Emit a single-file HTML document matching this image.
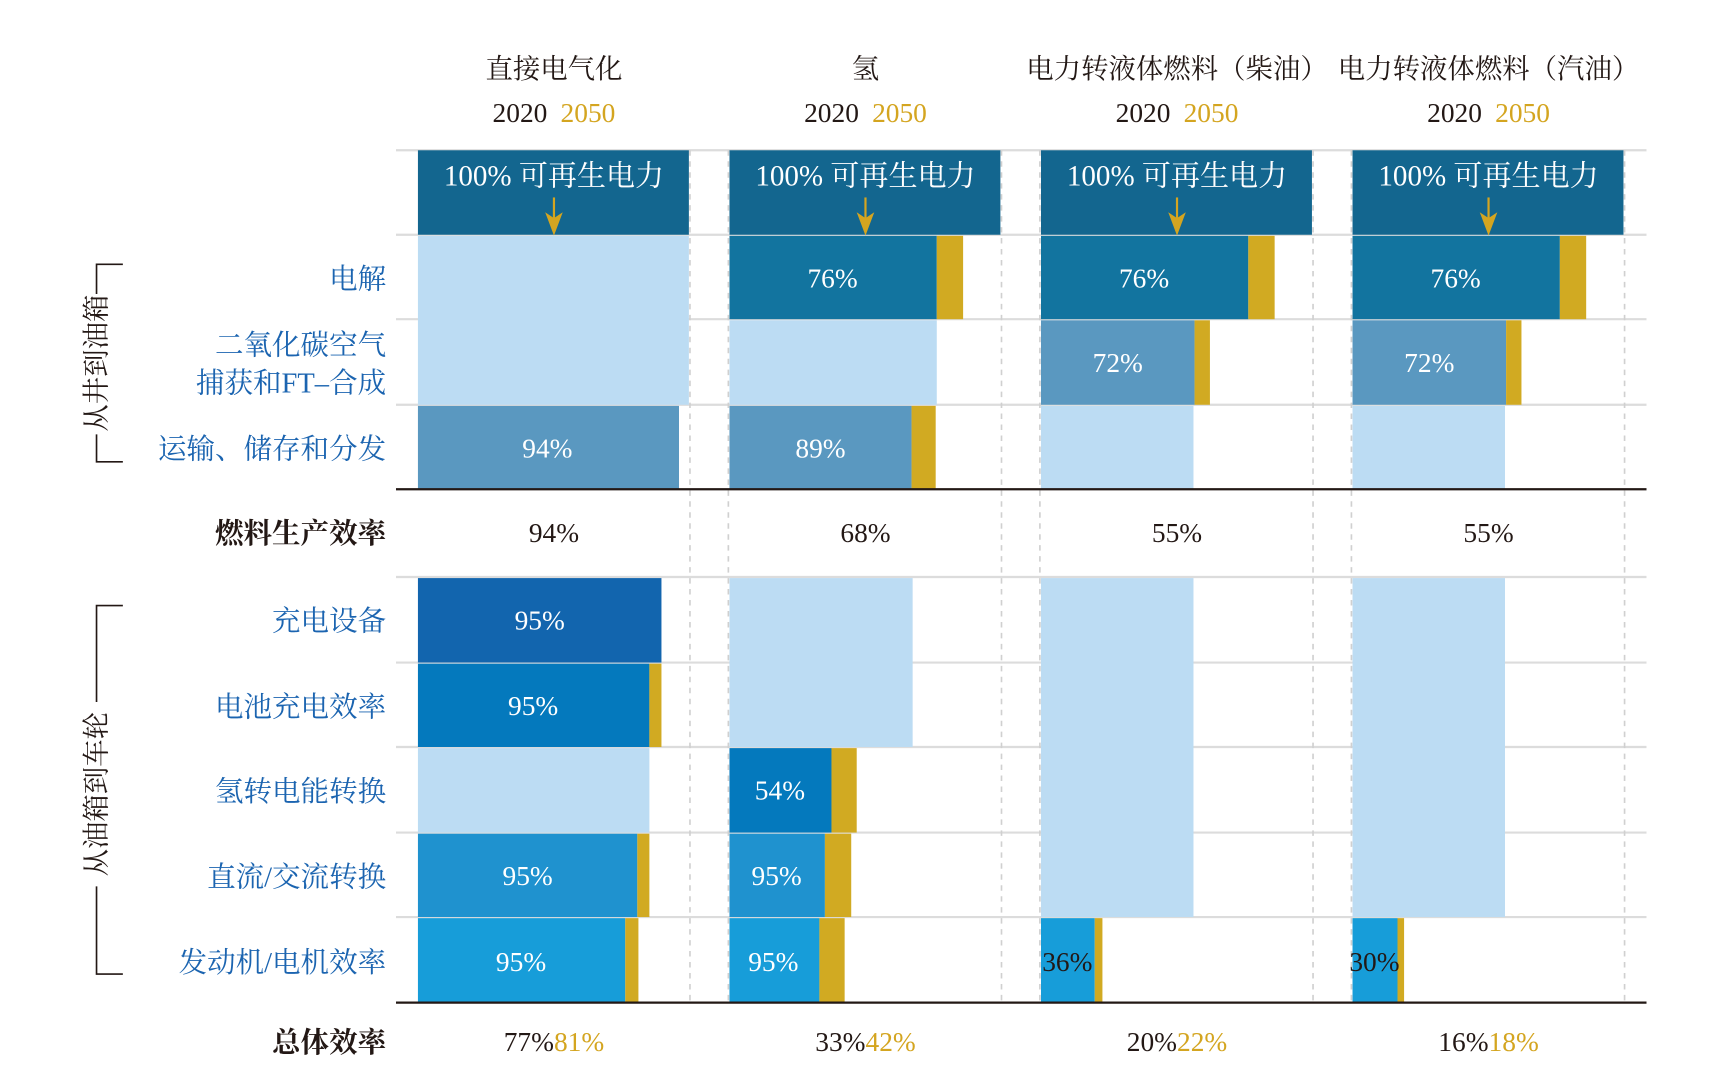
<!DOCTYPE html>
<html><head><meta charset="utf-8"><style>
html,body{margin:0;padding:0;background:#fff;}
svg{display:block;}
text{font-family:"Liberation Serif","Noto Serif CJK SC",serif;}
</style></head><body>
<svg width="1720" height="1075" viewBox="0 0 1568 980" preserveAspectRatio="none" xmlns="http://www.w3.org/2000/svg">
<rect width="1568" height="980" fill="#fff"/>
<g font-size="25" fill="#231815" text-anchor="middle">
<text x="505" y="71">直接电气化</text>
<text x="789" y="71">氢</text>
<text x="1073" y="71">电力转液体燃料（柴油）</text>
<text x="1357" y="71">电力转液体燃料（汽油）</text>
</g>
<g font-size="25" text-anchor="middle">
<text x="505" y="111"><tspan fill="#231815">2020</tspan><tspan fill="#d4a520" dx="12">2050</tspan></text>
<text x="789" y="111"><tspan fill="#231815">2020</tspan><tspan fill="#d4a520" dx="12">2050</tspan></text>
<text x="1073" y="111"><tspan fill="#231815">2020</tspan><tspan fill="#d4a520" dx="12">2050</tspan></text>
<text x="1357" y="111"><tspan fill="#231815">2020</tspan><tspan fill="#d4a520" dx="12">2050</tspan></text>
</g>
<g stroke="#dcdcdc" stroke-width="2">
<line x1="361" x2="1501" y1="137" y2="137"/><line x1="361" x2="1501" y1="214" y2="214"/>
<line x1="361" x2="1501" y1="291" y2="291"/><line x1="361" x2="1501" y1="369" y2="369"/>
<line x1="361" x2="1501" y1="526" y2="526"/><line x1="361" x2="1501" y1="604" y2="604"/>
<line x1="361" x2="1501" y1="681" y2="681"/><line x1="361" x2="1501" y1="759" y2="759"/>
<line x1="361" x2="1501" y1="836" y2="836"/>
</g>
<g stroke="#d0d0d0" stroke-width="1.5" stroke-dasharray="5,5">
<line x1="629" x2="629" y1="137" y2="914"/><line x1="664" x2="664" y1="137" y2="914"/>
<line x1="913" x2="913" y1="137" y2="914"/><line x1="948" x2="948" y1="137" y2="914"/>
<line x1="1197" x2="1197" y1="137" y2="914"/><line x1="1232" x2="1232" y1="137" y2="914"/>
<line x1="1481" x2="1481" y1="137" y2="914"/>
</g>
<g fill="#13668f">
<rect x="381" y="137" width="247" height="77"/><rect x="665" y="137" width="247" height="77"/>
<rect x="949" y="137" width="247" height="77"/><rect x="1233" y="137" width="247" height="77"/>
</g>
<g font-size="26.5" fill="#fff" text-anchor="middle">
<text x="505" y="169">100% 可再生电力</text><text x="789" y="169">100% 可再生电力</text>
<text x="1073" y="169">100% 可再生电力</text><text x="1357" y="169">100% 可再生电力</text>
</g>
<g stroke="#d4a520" stroke-width="2" fill="#d4a520">
<line x1="505" x2="505" y1="180" y2="204"/><path d="M499 196 L505 212 L511 196 L505 200Z"/>
<line x1="789" x2="789" y1="180" y2="204"/><path d="M783 196 L789 212 L795 196 L789 200Z"/>
<line x1="1073" x2="1073" y1="180" y2="204"/><path d="M1067 196 L1073 212 L1079 196 L1073 200Z"/>
<line x1="1357" x2="1357" y1="180" y2="204"/><path d="M1351 196 L1357 212 L1363 196 L1357 200Z"/>
</g>
<rect x="381" y="215" width="247" height="154" fill="#bcdcf3"/>
<rect x="381" y="370" width="238" height="76" fill="#5a98c0"/>
<rect x="381" y="527" width="222" height="77" fill="#1265ae"/>
<rect x="381" y="605" width="211" height="76" fill="#0479bd"/><rect x="592" y="605" width="11" height="76" fill="#d1aa22"/>
<rect x="381" y="682" width="211" height="77" fill="#bcdcf3"/>
<rect x="381" y="760" width="200" height="76" fill="#1f92cf"/><rect x="581" y="760" width="11" height="76" fill="#d1aa22"/>
<rect x="381" y="837" width="189" height="77" fill="#179dd9"/><rect x="570" y="837" width="12" height="77" fill="#d1aa22"/>
<rect x="665" y="215" width="189" height="76" fill="#12749f"/><rect x="854" y="215" width="24" height="76" fill="#d1aa22"/>
<rect x="665" y="292" width="189" height="77" fill="#bcdcf3"/>
<rect x="665" y="370" width="166" height="76" fill="#5a98c0"/><rect x="831" y="370" width="22" height="76" fill="#d1aa22"/>
<rect x="665" y="527" width="167" height="154" fill="#bcdcf3"/>
<rect x="665" y="682" width="93" height="77" fill="#0479bd"/><rect x="758" y="682" width="23" height="77" fill="#d1aa22"/>
<rect x="665" y="760" width="87" height="76" fill="#1f92cf"/><rect x="752" y="760" width="24" height="76" fill="#d1aa22"/>
<rect x="665" y="837" width="82" height="77" fill="#179dd9"/><rect x="747" y="837" width="23" height="77" fill="#d1aa22"/>
<rect x="949" y="215" width="189" height="76" fill="#12749f"/><rect x="1138" y="215" width="24" height="76" fill="#d1aa22"/>
<rect x="949" y="292" width="140" height="77" fill="#5a98c0"/><rect x="1089" y="292" width="14" height="77" fill="#d1aa22"/>
<rect x="949" y="370" width="139" height="76" fill="#bcdcf3"/>
<rect x="949" y="527" width="139" height="309" fill="#bcdcf3"/>
<rect x="949" y="837" width="49" height="77" fill="#179dd9"/><rect x="998" y="837" width="7" height="77" fill="#d1aa22"/>
<rect x="1233" y="215" width="189" height="76" fill="#12749f"/><rect x="1422" y="215" width="24" height="76" fill="#d1aa22"/>
<rect x="1233" y="292" width="140" height="77" fill="#5a98c0"/><rect x="1373" y="292" width="14" height="77" fill="#d1aa22"/>
<rect x="1233" y="370" width="139" height="76" fill="#bcdcf3"/>
<rect x="1233" y="527" width="139" height="309" fill="#bcdcf3"/>
<rect x="1233" y="837" width="41" height="77" fill="#179dd9"/><rect x="1274" y="837" width="6" height="77" fill="#d1aa22"/>
<line x1="361" x2="1501" y1="446" y2="446" stroke="#231815" stroke-width="2"/>
<line x1="361" x2="1501" y1="914" y2="914" stroke="#231815" stroke-width="2"/>
<g font-size="25" fill="#fff" text-anchor="middle">
<text x="759" y="262">76%</text><text x="1043" y="262">76%</text><text x="1327" y="262">76%</text>
<text x="1019" y="339">72%</text><text x="1303" y="339">72%</text>
<text x="499" y="417">94%</text><text x="748" y="417">89%</text>
<text x="492" y="574">95%</text><text x="486" y="652">95%</text>
<text x="711" y="729">54%</text>
<text x="481" y="807">95%</text><text x="708" y="807">95%</text>
<text x="475" y="885">95%</text><text x="705" y="885">95%</text>
</g>
<g font-size="25" fill="#231815" text-anchor="middle">
<text x="973" y="885">36%</text><text x="1253" y="885">30%</text>
<text x="505" y="494">94%</text><text x="789" y="494">68%</text>
<text x="1073" y="494">55%</text><text x="1357" y="494">55%</text>
</g>
<g font-size="25" text-anchor="middle">
<text x="505" y="958"><tspan fill="#231815">77%</tspan><tspan fill="#d4a520">81%</tspan></text>
<text x="789" y="958"><tspan fill="#231815">33%</tspan><tspan fill="#d4a520">42%</tspan></text>
<text x="1073" y="958"><tspan fill="#231815">20%</tspan><tspan fill="#d4a520">22%</tspan></text>
<text x="1357" y="958"><tspan fill="#231815">16%</tspan><tspan fill="#d4a520">18%</tspan></text>
</g>
<g font-size="26" fill="#1b64b0" text-anchor="end">
<text x="352" y="263">电解</text>
<text x="352" y="323">二氧化碳空气</text>
<text x="352" y="358">捕获和FT–合成</text>
<text x="352" y="418">运输、储存和分发</text>
<text x="352" y="575">充电设备</text>
<text x="352" y="653">电池充电效率</text>
<text x="352" y="730">氢转电能转换</text>
<text x="352" y="808">直流/交流转换</text>
<text x="352" y="886">发动机/电机效率</text>
</g>
<g font-size="26" fill="#231815" text-anchor="end" font-weight="bold">
<text x="352" y="495">燃料生产效率</text>
<text x="352" y="959">总体效率</text>
</g>
<g stroke="#231815" stroke-width="1.5" fill="none">
<path d="M112 241 H88 V268"/><path d="M88 396 V421 H112"/>
<path d="M112 552 H88 V640"/><path d="M88 808 V888 H112"/>
</g>
<g font-size="25" fill="#231815" text-anchor="middle">
<text transform="translate(96,331) rotate(-90)">从井到油箱</text>
<text transform="translate(96,724) rotate(-90)">从油箱到车轮</text>
</g>
</svg>
</body></html>
